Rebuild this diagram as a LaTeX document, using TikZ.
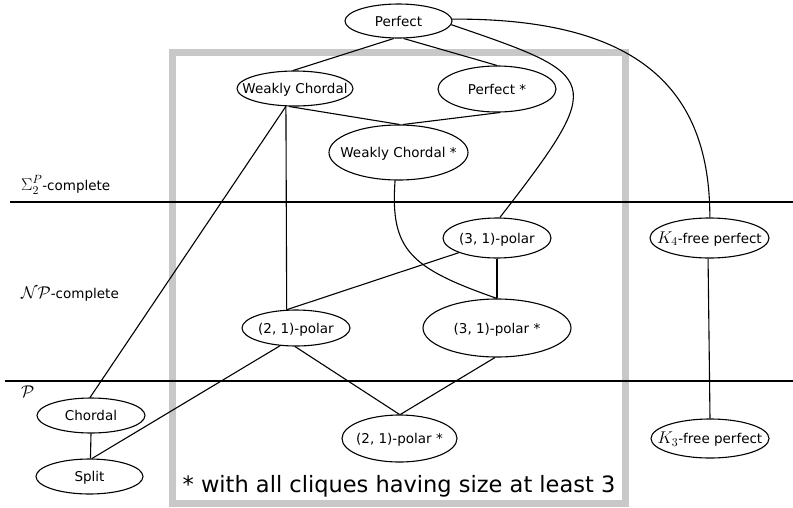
\RequirePackage{fix-cm}
\documentclass[tikz,border=0pt]{standalone}
\usepackage[no-math]{fontspec}
\setmainfont{DejaVu Sans}
\usetikzlibrary{shapes.geometric}
\definecolor{rectgray}{RGB}{200,200,200}
\newcommand{\nodetext}[1]{\makebox[0pt][c]{#1}}
\newcommand{\mth}[1]{{\fontsize{17}{20}\selectfont$#1$}}
\begin{document}
\begin{tikzpicture}[x=1pt,y=-1pt,
  el/.style 2 args={ellipse, draw, line width=1.1pt, minimum width=#1, minimum height=#2,
    inner sep=0pt, text height=10pt, text depth=0pt, font=\fontsize{13.5}{16}\selectfont},
  edge/.style={line width=1.1pt},
  hline/.style={line width=2pt},
  lbl/.style={inner sep=0pt, font=\fontsize{13.5}{16}\selectfont}]
\useasboundingbox (0,0) rectangle (793,507);
\draw[line width=7pt, color=rectgray] (172.5,52) rectangle (625,503);
\draw[hline] (10,202) -- (793,202);
\draw[hline] (5,381) -- (793,381);

\node[el={107pt}{34pt}] (P) at (398.5,21) {\nodetext{Perfect}};
\node[el={116pt}{35pt}] (WC) at (295,88.5) {\nodetext{Weakly Chordal}};
\node[el={118pt}{46pt}] (PS) at (497,89) {\nodetext{Perfect *}};
\node[el={139pt}{55pt}] (WCS) at (398.5,152.5) {\nodetext{Weakly Chordal *}};
\node[el={108pt}{40pt}] (P31) at (497,238) {\nodetext{(3, 1)-polar}};
\node[el={119pt}{40pt}] (K4) at (709.5,238) {\nodetext{\mth{K_4}-free perfect}};
\node[el={108pt}{36pt}] (P21) at (296,328) {\nodetext{(2, 1)-polar}};
\node[el={148pt}{58pt}] (P31S) at (497,328) {\nodetext{(3, 1)-polar *}};
\node[el={108pt}{35pt}] (Ch) at (91,415.5) {\nodetext{Chordal}};
\node[el={107pt}{35pt}] (Sp) at (89.5,476.5) {\nodetext{Split}};
\node[el={115pt}{47pt}] (P21S) at (399.5,438.5) {\nodetext{(2, 1)-polar *}};
\node[el={118pt}{39pt}] (K3) at (710,438.5) {\nodetext{\mth{K_3}-free perfect}};

\node[lbl, anchor=base west] (sigma) at (21,190) {\mth{\Sigma_2^P}-complete};
\node[lbl, anchor=base west] (np) at (21,298) {\mth{\mathcal{N}\mathcal{P}}-complete};
\node[lbl, anchor=base west] (pp) at (21,397) {\mth{\mathcal{P}}};
\node[inner sep=0pt, anchor=base, font=\fontsize{22.5}{27}\selectfont] (note) at (399,492) {* with all cliques having size at least 3};

\draw[edge] (P.255) -- (WC.96);
\draw[edge] (P.286) -- (PS.90);
\draw[edge] (P.-4) .. controls (601,76) and (608,78) .. (P31.82);
\draw[edge] (P.2) .. controls (640,18) and (710,90) .. (K4.89);
\draw[edge] (WC.251) -- (WCS.88);
\draw[edge] (PS.277) -- (WCS.81);
\draw[edge] (WC.243) -- (P21.117);
\draw[edge] (WC.243) -- (Ch.93);
\draw[edge] (WCS.263) .. controls (390,250) and (410,268) .. (P31S.90);
\draw[edge] (P31.270) -- (P31S.90);
\draw[edge] (P31.201) -- (P21.117);
\draw[edge] (P21.228) -- (Sp.82);
\draw[edge] (P21.267) -- (P21S.90);
\draw[edge] (P31S.266) -- (P21S.88);
\draw[edge] (Ch.270) -- (Sp.87);
\draw[edge] (K4.266) -- (K3.90);
\end{tikzpicture}
\end{document}
